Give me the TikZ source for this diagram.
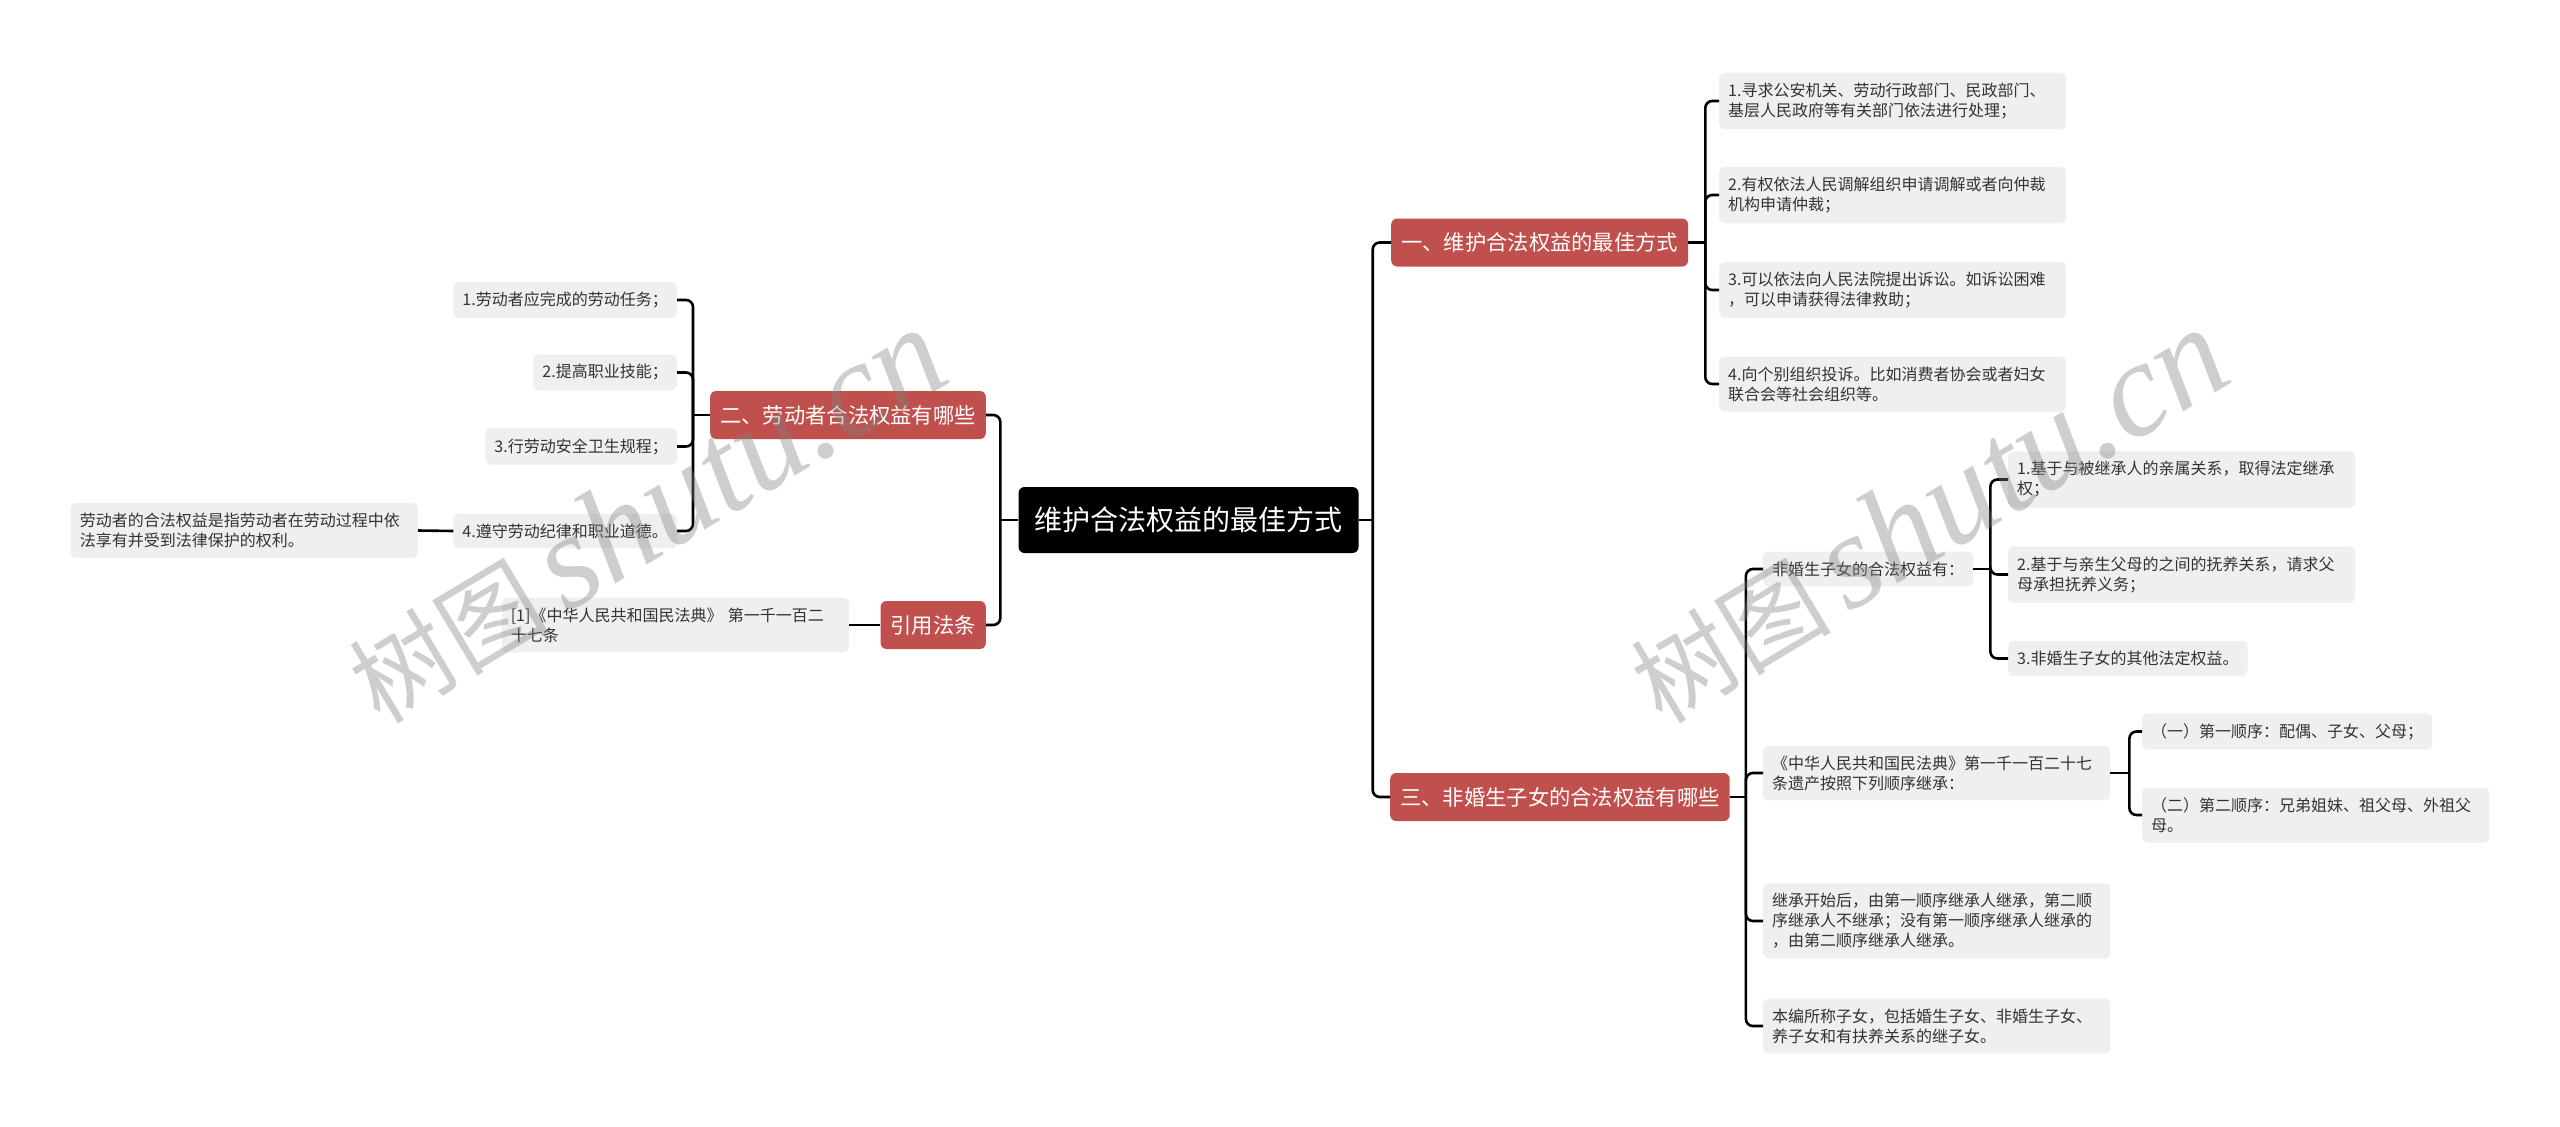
\documentclass[tikz,border=0pt]{standalone}
\usepackage{fontspec}
\usepackage{tikz}
\setmainfont{Noto Sans CJK SC}
\newfontfamily\wmlatin{Liberation Serif}
\definecolor{leafgray}{RGB}{239,239,239}
\definecolor{leaftext}{RGB}{51,51,51}
\definecolor{branchred}{RGB}{192,80,77}
\tikzset{
  leaf/.style={fill=leafgray, text=leaftext, rounded corners=5pt, inner xsep=9pt, inner ysep=10pt, align=left, font=\fontsize{16}{20}\selectfont},
  wide/.style={text width=329pt},
  branch/.style={fill=branchred, text=white, rounded corners=6pt, inner xsep=10pt, minimum height=48pt, font=\fontsize{21.3}{25}\selectfont},
  rootbox/.style={fill=black, text=white, rounded corners=6pt, inner xsep=16pt, minimum height=66pt, font=\fontsize{28}{32}\selectfont},
  link/.style={line width=2.6pt, rounded corners=7pt},
  wmark/.style={text=gray, opacity=0.38, rotate=31}
}

\begin{document}
\begin{tikzpicture}[x=1pt, y=-1pt]
\useasboundingbox (0,0) rectangle (2560,1127);
\fill[white] (0,0) rectangle (2560,1127);
\node[rootbox] (m) at (1188.5,520) {维护合法权益的最佳方式};
\node[branch, anchor=west] (w) at (1391,242.5) {一、维护合法权益的最佳方式};
\node[branch, anchor=east] (r) at (986,415) {二、劳动者合法权益有哪些};
\node[branch, anchor=east] (c) at (986,625) {引用法条};
\node[branch, anchor=west] (f) at (1390,797) {三、非婚生子女的合法权益有哪些};
\node[leaf, wide, anchor=west] (w1) at (1719,101) {1.寻求公安机关、劳动行政部门、民政部门、\\基层人民政府等有关部门依法进行处理；};
\node[leaf, wide, anchor=west] (w2) at (1719,195) {2.有权依法人民调解组织申请调解或者向仲裁\\机构申请仲裁；};
\node[leaf, wide, anchor=west] (w3) at (1719,290) {3.可以依法向人民法院提出诉讼。如诉讼困难\\，可以申请获得法律救助；};
\node[leaf, wide, anchor=west] (w4) at (1719,384) {4.向个别组织投诉。比如消费者协会或者妇女\\联合会等社会组织等。};
\node[leaf, anchor=east] (r1) at (677,300) {1.劳动者应完成的劳动任务；};
\node[leaf, anchor=east] (r2) at (677,372.5) {2.提高职业技能；};
\node[leaf, anchor=east] (r3) at (677,446.5) {3.行劳动安全卫生规程；};
\node[leaf, anchor=east] (r4) at (677,531) {4.遵守劳动纪律和职业道德。};
\node[leaf, wide, anchor=east] (r4a) at (418,530.5) {劳动者的合法权益是指劳动者在劳动过程中依\\法享有并受到法律保护的权利。};
\node[leaf, wide, anchor=east] (c1) at (849,625) {[1]《中华人民共和国民法典》 第一千一百二\\十七条};
\node[leaf, anchor=west] (f1) at (1763,569) {非婚生子女的合法权益有：};
\node[leaf, wide, anchor=west] (f1a) at (2008,479.5) {1.基于与被继承人的亲属关系，取得法定继承\\权；};
\node[leaf, wide, anchor=west] (f1b) at (2008,574.5) {2.基于与亲生父母的之间的抚养关系，请求父\\母承担抚养义务；};
\node[leaf, anchor=west] (f1c) at (2008,658.5) {3.非婚生子女的其他法定权益。};
\node[leaf, wide, anchor=west] (f2) at (1763,773) {《中华人民共和国民法典》第一千一百二十七\\条遗产按照下列顺序继承：};
\node[leaf, anchor=west] (f2a) at (2142,731.5) {（一）第一顺序：配偶、子女、父母；};
\node[leaf, wide, anchor=west] (f2b) at (2142,815) {（二）第二顺序：兄弟姐妹、祖父母、外祖父\\母。};
\node[leaf, wide, anchor=west] (f3) at (1763,921) {继承开始后，由第一顺序继承人继承，第二顺\\序继承人不继承；没有第一顺序继承人继承的\\，由第二顺序继承人继承。};
\node[leaf, wide, anchor=west] (f4) at (1763,1026) {本编所称子女，包括婚生子女、非婚生子女、\\养子女和有扶养关系的继子女。};
\coordinate (mr) at ([xshift=14pt]m.east);
\coordinate (ml) at ([xshift=-18pt]m.west);
\coordinate (wr) at ([xshift=17pt]w.east);
\coordinate (rl) at ([xshift=-17pt]r.west);
\coordinate (fr) at ([xshift=16pt]f.east);
\coordinate (f1r) at ([xshift=17pt]f1.east);
\coordinate (f2r) at ([xshift=19pt]f2.east);
\draw[link] (m.east) -- (mr);
\draw[link] (mr) |- (w.west);
\draw[link] (mr) |- (f.west);
\draw[link] (m.west) -- (ml);
\draw[link] (ml) |- (r.east);
\draw[link] (ml) |- (c.east);
\draw[link] (w.east) -- (wr);
\draw[link] (wr) |- (w1.west);
\draw[link] (wr) |- (w2.west);
\draw[link] (wr) |- (w3.west);
\draw[link] (wr) |- (w4.west);
\draw[link] (r.west) -- (rl);
\draw[link] (rl) |- (r1.east);
\draw[link] (rl) |- (r2.east);
\draw[link] (rl) |- (r3.east);
\draw[link] (rl) |- (r4.east);
\draw[link] (r4.west) -- (r4a.east);
\draw[link] (c.west) -- (c1.east);
\draw[link] (f.east) -- (fr);
\draw[link] (fr) |- (f1.west);
\draw[link] (fr) |- (f2.west);
\draw[link] (fr) |- (f3.west);
\draw[link] (fr) |- (f4.west);
\draw[link] (f1.east) -- (f1r);
\draw[link] (f1r) |- (f1a.west);
\draw[link] (f1r) |- (f1b.west);
\draw[link] (f1r) |- (f1c.west);
\draw[link] (f2.east) -- (f2r);
\draw[link] (f2r) |- (f2a.west);
\draw[link] (f2r) |- (f2b.west);
\node[wmark] (wm1) at (646,516) {\fontsize{100}{100}\selectfont 树图\,{\wmlatin\itshape\fontsize{135}{135}\selectfont shutu.cn}};
\node[wmark] (wm2) at (1928,516) {\fontsize{100}{100}\selectfont 树图\,{\wmlatin\itshape\fontsize{135}{135}\selectfont shutu.cn}};
\end{tikzpicture}
\end{document}
